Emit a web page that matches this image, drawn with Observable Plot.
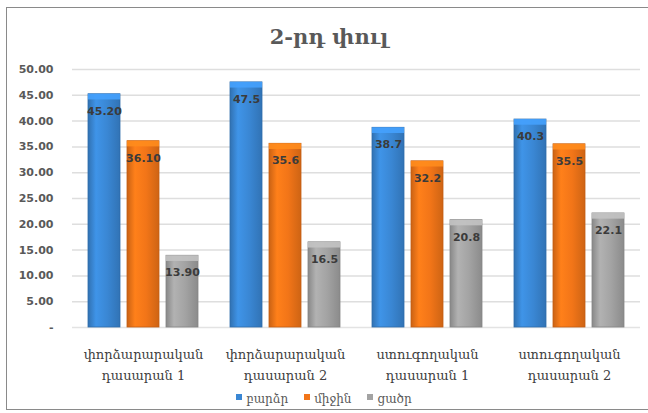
<!DOCTYPE html>
<html>
<head>
<meta charset="utf-8">
<script src="https://cdn.jsdelivr.net/npm/d3@7"></script>
<script src="https://cdn.jsdelivr.net/npm/@observablehq/plot@0.6"></script>
<style>
  html, body { margin: 0; padding: 0; background: #fff; width: 648px; height: 413px; overflow: hidden; position: relative; }
  #frame { position: absolute; left: 6px; top: 7px; width: 700px; height: 403px; border: 1px solid #8a8a8a; box-sizing: border-box; }
  #title { position: absolute; left: 0; width: 658px; top: 24px; text-align: center; font-family: "DejaVu Serif", serif; font-weight: bold; font-size: 21px; color: #595959; }
  #chart { position: absolute; left: 0; top: 50px; }
  #legend { position: absolute; left: 0; width: 648px; top: 392px; text-align: center; font-family: "DejaVu Serif", serif; font-size: 12px; color: #595959; }
  #legend span.item { margin: 0 8px; }
  #legend span.sw { display: inline-block; width: 6px; height: 6px; margin-right: 4px; vertical-align: 3px; }
</style>
</head>
<body>
<div id="frame"></div>
<div id="title">2-րդ փուլ</div>
<div id="chart"></div>
<div id="legend"></div>
<script>
const categories = ["փորձարարական\nդասարան 1", "փորձարարական\nդասարան 2", "ստուգողական\nդասարան 1", "ստուգողական\nդասարան 2"];
const seriesNames = ["բարձր", "միջին", "ցածր"];
const highValues = [45.2, 47.5, 38.7, 40.3];
const midValues = [36.1, 35.6, 32.2, 35.5];
const lowValues = [13.9, 16.5, 20.8, 22.1];
const highLabels = ["45.20", "47.5", "38.7", "40.3"];
const midLabels = ["36.10", "35.6", "32.2", "35.5"];
const lowLabels = ["13.90", "16.5", "20.8", "22.1"];
const yTicks = [0, 5, 10, 15, 20, 25, 30, 35, 40, 45, 50];

const seriesColors = ["#3a87d4", "#f27518", "#a3a3a3"];
const gradIds = ["gBlue", "gOrange", "gGray"];

const allValues = [highValues, midValues, lowValues];
const allLabels = [highLabels, midLabels, lowLabels];
const rows = [];
seriesNames.forEach((s, si) => {
  categories.forEach((c, ci) => {
    rows.push({cat: c, series: s, si, value: allValues[si][ci], label: allLabels[si][ci]});
  });
});

const barMarks = seriesNames.flatMap((s, si) => {
  const data = rows.filter(r => r.si === si);
  return [
    Plot.barY(data, {fx: "cat", x: "series", y: "value", fill: `url(#${gradIds[si]})`, stroke: d3.color(seriesColors[si]).darker(0.6).formatHex(), strokeWidth: 0.8}),
    Plot.barY(data, {fx: "cat", x: "series", y1: d => d.value - 1.1, y2: "value", fill: d3.color(seriesColors[si]).brighter(0.5).formatHex(), fillOpacity: 0.9})
  ];
});

const chart = Plot.plot({
  width: 648,
  height: 340,
  marginTop: 19,
  marginBottom: 63,
  marginLeft: 72,
  marginRight: 8,
  style: {fontFamily: "DejaVu Sans, sans-serif", fontSize: "11px", color: "#595959", background: "transparent"},
  fx: {domain: categories, padding: 0, label: null},
  x: {domain: seriesNames, paddingInner: 0.18, paddingOuter: 0.41, axis: null},
  y: {domain: [0, 50], label: null},
  marks: [
    Plot.axisY({ticks: yTicks, tickFormat: d => d === 0 ? "-" : d.toFixed(2), tickSize: 0, tickPadding: 19, fontWeight: "bold", fill: "#595959", label: null}),
    Plot.axisFx({anchor: "bottom", tickSize: 0, tickPadding: 17, fontFamily: "DejaVu Serif, serif", fontSize: 13, lineHeight: 1.6, fill: "#404040", label: null}),
    Plot.ruleY(yTicks.filter(t => t > 0), {stroke: "#dedede", strokeWidth: 1.5}),
    Plot.ruleY([0], {stroke: "#e3e3e3", strokeWidth: 1.5}),
    ...barMarks,
    Plot.text(rows, {fx: "cat", x: "series", y: "value", text: "label", dy: 17, fill: "#3b3b3b", fontWeight: "bold", fontSize: 11})
  ]
});

// gradient defs
const ns = "http://www.w3.org/2000/svg";
const defs = document.createElementNS(ns, "defs");
gradIds.forEach((id, i) => {
  const base = d3.color(seriesColors[i]);
  const g = document.createElementNS(ns, "linearGradient");
  g.setAttribute("id", id);
  g.setAttribute("x1", "0"); g.setAttribute("x2", "1"); g.setAttribute("y1", "0"); g.setAttribute("y2", "0");
  [[0, base.darker(0.5)], [0.25, base.brighter(0.25)], [0.6, base], [1, base.darker(0.45)]].forEach(([o, c]) => {
    const st = document.createElementNS(ns, "stop");
    st.setAttribute("offset", o);
    st.setAttribute("stop-color", c.formatHex());
    g.appendChild(st);
  });
  defs.appendChild(g);
});
chart.insertBefore(defs, chart.firstChild);

document.getElementById("chart").appendChild(chart);

const legend = document.getElementById("legend");
seriesNames.forEach((s, i) => {
  const item = document.createElement("span");
  item.className = "item";
  const sw = document.createElement("span");
  sw.className = "sw";
  sw.style.background = seriesColors[i];
  item.appendChild(sw);
  item.appendChild(document.createTextNode(s));
  legend.appendChild(item);
});
</script>
</body>
</html>
